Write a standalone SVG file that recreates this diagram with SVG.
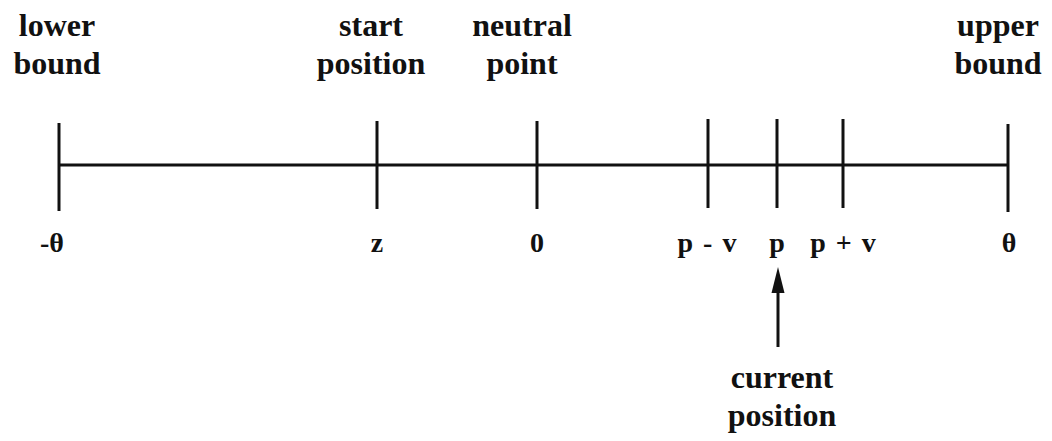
<svg xmlns="http://www.w3.org/2000/svg" width="1052" height="441" viewBox="0 0 1052 441">
<style>
.lbl{font-family:"Liberation Serif","DejaVu Serif",serif;font-weight:bold;font-size:32px;fill:#111;text-anchor:middle}
.val{font-family:"Liberation Serif","DejaVu Serif",serif;font-weight:bold;font-size:28px;fill:#111;text-anchor:middle}
.ln{stroke:#111;stroke-width:3;fill:none}
</style>
<rect width="1052" height="441" fill="#fff"/>
<g id="connectors">
<line class="ln" x1="59" y1="165" x2="1008" y2="165"/>
<path d="M778,347 L778,292" class="ln"/>
<path d="M771.5,293 L778,267 L784.5,293 Z" fill="#111"/>
</g>
<g id="lower-bound">
<line class="ln" x1="59" y1="123" x2="59" y2="211"/>
<text class="lbl" x="57" y="36">lower</text>
<text class="lbl" x="57" y="74">bound</text>
<text class="val" x="52" y="252">-θ</text>
</g>
<g id="start-position">
<line class="ln" x1="377" y1="121" x2="377" y2="209"/>
<text class="lbl" x="371" y="36">start</text>
<text class="lbl" x="371" y="74">position</text>
<text class="val" x="377" y="252">z</text>
</g>
<g id="neutral-point">
<line class="ln" x1="537" y1="121" x2="537" y2="209"/>
<text class="lbl" x="522" y="36">neutral</text>
<text class="lbl" x="522" y="74">point</text>
<text class="val" x="537" y="252">0</text>
</g>
<g id="p-minus-v">
<line class="ln" x1="708" y1="119" x2="708" y2="208"/>
<text class="val" x="707" y="252" style="word-spacing:3px">p - v</text>
</g>
<g id="p">
<line class="ln" x1="777" y1="119" x2="777" y2="208"/>
<text class="val" x="777" y="252">p</text>
</g>
<g id="p-plus-v">
<line class="ln" x1="843" y1="119" x2="843" y2="208"/>
<text class="val" x="843" y="252" style="word-spacing:3px">p + v</text>
</g>
<g id="upper-bound">
<line class="ln" x1="1008" y1="124" x2="1008" y2="212"/>
<text class="lbl" x="998" y="36">upper</text>
<text class="lbl" x="998" y="74">bound</text>
<text class="val" x="1009" y="252">θ</text>
</g>
<g id="current-position">
<text class="lbl" x="782" y="388">current</text>
<text class="lbl" x="782" y="426">position</text>
</g>
</svg>
